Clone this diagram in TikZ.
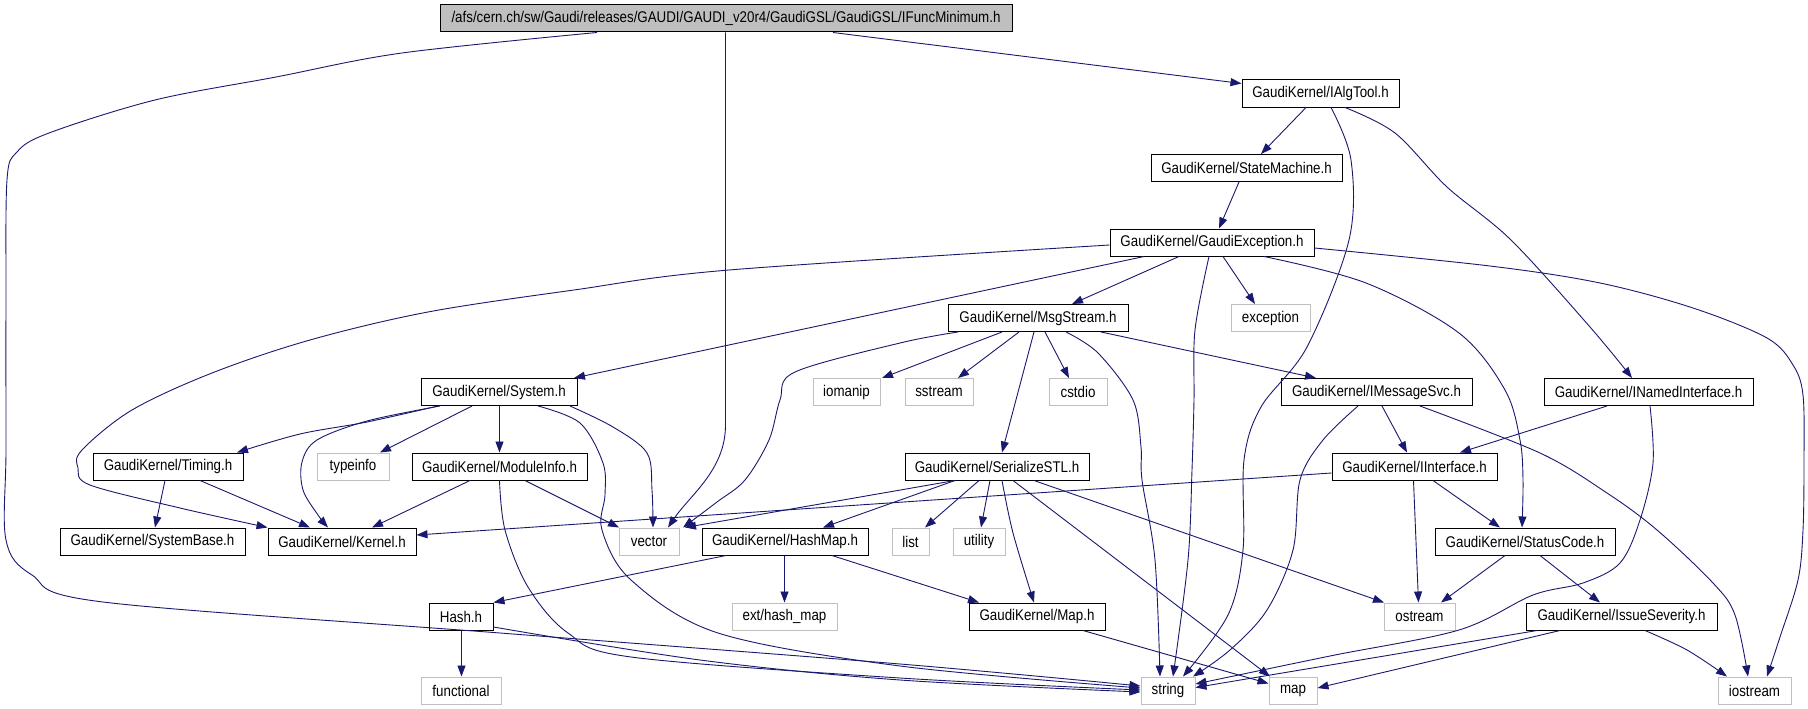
\documentclass[tikz,border=0pt]{standalone}
\usepackage{fontspec}
\setmainfont{Liberation Sans}[FakeStretch=0.86]
\usetikzlibrary{arrows.meta}
\definecolor{edgec}{HTML}{191970}
\definecolor{extc}{HTML}{BFBFBF}
\begin{document}
\begin{tikzpicture}[x=1pt,y=-1pt,
 nb/.style={draw=black,line width=1pt,rectangle,inner sep=0pt,minimum height=27pt,font=\fontsize{15.5}{18}\selectfont,text=black},
 ext/.style={nb,draw=extc},
 root/.style={nb,fill=extc},
 e/.style={draw=edgec,line width=0.9pt,-{Triangle[length=11pt,width=8pt]}},
 sm/.style={smooth,tension=0.55}]
\useasboundingbox[fill=white] (0,0) rectangle (1808,709);
% row 0
\node[root,minimum width=572pt] (top) at (726,18.5) {/afs/cern.ch/sw/Gaudi/releases/GAUDI/GAUDI\_v20r4/GaudiGSL/GaudiGSL/IFuncMinimum.h};
% row 1
\node[nb,minimum width=157pt] (iagt) at (1320.5,93.5) {GaudiKernel/IAlgTool.h};
% row 2
\node[nb,minimum width=191pt] (smh) at (1246.5,168) {GaudiKernel/StateMachine.h};
% row 3
\node[nb,minimum width=204pt] (gex) at (1212,242.5) {GaudiKernel/GaudiException.h};
% row 4
\node[nb,minimum width=180pt] (msg) at (1038,318) {GaudiKernel/MsgStream.h};
\node[ext,minimum width=79pt] (exc) at (1270.5,318) {exception};
% row 5
\node[nb,minimum width=156pt] (sys) at (499,392) {GaudiKernel/System.h};
\node[ext,minimum width=67pt] (iom) at (846.5,392) {iomanip};
\node[ext,minimum width=68pt] (sst) at (939,392) {sstream};
\node[ext,minimum width=58pt] (cst) at (1078,392) {cstdio};
\node[nb,minimum width=191pt] (ims) at (1376.5,392) {GaudiKernel/IMessageSvc.h};
\node[nb,minimum width=209pt] (inm) at (1648.5,392) {GaudiKernel/INamedInterface.h};
% row 6
\node[nb,minimum width=150pt] (tim) at (168,466.5) {GaudiKernel/Timing.h};
\node[ext,minimum width=72pt] (typ) at (353,466.5) {typeinfo};
\node[nb,minimum width=175pt] (mod) at (499.5,466.5) {GaudiKernel/ModuleInfo.h};
\node[nb,minimum width=184pt] (ser) at (997,466.5) {GaudiKernel/SerializeSTL.h};
\node[nb,minimum width=165pt] (iif) at (1414.5,466.5) {GaudiKernel/IInterface.h};
% row 7
\node[nb,minimum width=185pt] (sysb) at (152.5,541.5) {GaudiKernel/SystemBase.h};
\node[nb,minimum width=148pt] (ker) at (342,541.5) {GaudiKernel/Kernel.h};
\node[ext,minimum width=60pt] (vec) at (649,541.5) {vector};
\node[nb,minimum width=166pt] (hmap) at (785,541.5) {GaudiKernel/HashMap.h};
\node[ext,minimum width=37pt] (lst) at (910.5,541.5) {list};
\node[ext,minimum width=52pt] (utl) at (979,541.5) {utility};
\node[nb,minimum width=180pt] (stc) at (1525,541.5) {GaudiKernel/StatusCode.h};
% row 8
\node[nb,minimum width=64pt] (hash) at (461,616.5) {Hash.h};
\node[ext,minimum width=105pt] (ehm) at (784.5,616.5) {ext/hash\_map};
\node[nb,minimum width=136pt] (maph) at (1037,616.5) {GaudiKernel/Map.h};
\node[ext,minimum width=71pt] (ost) at (1419.5,616.5) {ostream};
\node[nb,minimum width=191pt] (iss) at (1621.5,616.5) {GaudiKernel/IssueSeverity.h};
% row 9
\node[ext,minimum width=80pt] (fun) at (461,690.5) {functional};
\node[ext,minimum width=54pt] (str) at (1168,690.5) {string};
\node[ext,minimum width=48pt] (mp) at (1293,690.5) {map};
\node[ext,minimum width=73pt] (ios) at (1754.5,690.5) {iostream};

% edges from top
\draw[e] ([xshift=107pt]top.south) -- ([yshift=-4pt]iagt.north west);
\draw[e] ([xshift=-0.5pt]top.south) -- (725.5,425) .. controls (725.5,470) and (690,495) .. ([xshift=19pt]vec.north);
\draw[e] plot[sm] coordinates {([xshift=-129pt]top.south) (402,53) (276,77) (155,100) (49,133) (17,152) (7,180) (6,300) (6,450) (6,540) (32,575) (103,602) (500,633) (900,664) ([yshift=4.5pt]str.west)};
% IAlgTool
\draw[e] ([xshift=-14.5pt]iagt.south) -- ([xshift=14.5pt]smh.north);
\draw[e] plot[sm] coordinates {([xshift=10.5pt]iagt.south) (1351,160) (1349,240) (1307,347) (1261,407) (1244,460) (1243,550) (1228,615) ([xshift=15pt]str.north)};
\draw[e] plot[sm] coordinates {([xshift=24.5pt]iagt.south) (1395,133) (1447,187) (1511,240) (1590,327) ([xshift=-16.5pt]inm.north)};
% StateMachine
\draw[e] ([xshift=-7.5pt]smh.south) -- ([xshift=7pt]gex.north);
% GaudiException
\draw[e] plot[sm] coordinates {([yshift=-2.5pt]gex.west) (729,270) (574,290) (428,312) (310,340) (212,373) (132,410) (82,450) (78,468) (90,485) (180,508) (ker.north west)};
\draw[e] ([xshift=-68pt]gex.south) -- ([xshift=75pt]sys.north);
\draw[e] ([xshift=-33pt]gex.south) -- ([xshift=34pt]msg.north);
\draw[e] plot[sm] coordinates {([xshift=-3pt]gex.south) (1195,330) (1194,400) (1192,470) (1188,560) ([xshift=5pt]str.north)};
\draw[e] ([xshift=11pt]gex.south) -- ([xshift=-15.5pt]exc.north);
\draw[e] plot[sm] coordinates {([xshift=52pt]gex.south) (1366,283) (1459,333) (1505,390) (1520,440) (1523,480) ([xshift=-3pt]stc.north)};
\draw[e] plot[sm] coordinates {([yshift=-5.5pt]gex.east) (1490,266) (1600,283) (1693,308) (1767,338) (1793,365) (1803,395) (1804,460) (1803,530) (1798,580) (1780,637) ([xshift=12.5pt]ios.north)};
% MsgStream
\draw[e] plot[sm] coordinates {([xshift=-80pt]msg.south) (900,343) (795,372) (780,400) (769,440) (745,480) (717,502) ([xshift=34pt]vec.north)};
\draw[e] ([xshift=-36pt]msg.south) -- ([xshift=35.5pt]iom.north);
\draw[e] ([xshift=-19pt]msg.south) -- ([xshift=19pt]sst.north);
\draw[e] ([xshift=7pt]msg.south) -- ([xshift=-9pt]cst.north);
\draw[e] ([xshift=-4pt]msg.south) -- ([xshift=5pt]ser.north);
\draw[e] plot[sm] coordinates {([xshift=28pt]msg.south) (1098,353) (1133,400) (1141,447) (1142,480) (1155,560) ([xshift=-8pt]str.north)};
\draw[e] ([xshift=63pt]msg.south) -- ([xshift=-60.5pt]ims.north);
% System
\draw[e] plot[sm] coordinates {([xshift=-61pt]sys.south) (367,422) (300,434) ([xshift=69pt]tim.north)};
\draw[e] plot[sm] coordinates {([xshift=-59pt]sys.south) (367,421) (317,440) (302,462) (303,490) (318,515) ([xshift=-14pt]ker.north)};
\draw[e] ([xshift=-27pt]sys.south) -- ([xshift=27pt]typ.north);
\draw[e] ([xshift=0.5pt]sys.south) -- (mod.north);
\draw[e] plot[sm] coordinates {([xshift=39pt]sys.south) (580,423) (603,463) (605,495) (602,530) (631,580) (718,633) (900,666) ([yshift=2.5pt]str.west)};
\draw[e] plot[sm] coordinates {([xshift=71pt]sys.south) (613,427) (647,453) (652,490) ([xshift=4pt]vec.north)};
% Timing
\draw[e] ([xshift=-3pt]tim.south) -- ([xshift=2.5pt]sysb.north);
\draw[e] ([xshift=32pt]tim.south) -- ([xshift=-32pt]ker.north);
% ModuleInfo
\draw[e] ([xshift=-29.5pt]mod.south) -- ([xshift=30pt]ker.north);
\draw[e] ([xshift=25.5pt]mod.south) -- ([xshift=-30pt]vec.north);
\draw[e] plot[sm] coordinates {(mod.south) (505,530) (528,587) (568,633) (631,657) (900,678) ([yshift=0.5pt]str.west)};
% SerializeSTL
\draw[e] ([xshift=-42pt]ser.south) -- ([xshift=36pt]vec.north);
\draw[e] ([xshift=-42pt]ser.south) -- ([xshift=38pt]hmap.north);
\draw[e] ([xshift=-18pt]ser.south) -- ([xshift=14.5pt]lst.north);
\draw[e] ([xshift=-7pt]ser.south) -- ([xshift=2pt]utl.north);
\draw[e] plot[sm] coordinates {([xshift=5pt]ser.south) (1013,533) ([xshift=-3pt]maph.north)};
\draw[e] ([xshift=16pt]ser.south) -- ([xshift=-23pt]mp.north);
\draw[e] ([xshift=37pt]ser.south) -- ([xshift=-35.5pt]ost.north);
% HashMap
\draw[e] ([xshift=-59pt]hmap.south) -- (hash.north east);
\draw[e] ([xshift=-0.5pt]hmap.south) -- ([xshift=-0.5pt]hmap.south |- ehm.north);
\draw[e] ([xshift=47pt]hmap.south) -- ([xshift=-58pt]maph.north);
% Hash
\draw[e] ([xshift=0.5pt]hash.south) -- ([xshift=0.5pt]fun.north);
\draw[e] plot[sm] coordinates {([yshift=-10.5pt]hash.east) (700,660) (900,680) ([yshift=-1.5pt]str.west)};
% Map
\draw[e] ([xshift=46pt]maph.south) -- ([yshift=7pt]mp.west);
% IMessageSvc
\draw[e] ([xshift=5.5pt]ims.south) -- ([xshift=-7.5pt]iif.north);
\draw[e] plot[sm] coordinates {([xshift=-18.5pt]ims.south) (1323,440) (1300,480) (1293,550) (1267,610) (1230,650) ([xshift=25pt]str.north)};
\draw[e] plot[sm] coordinates {([xshift=43.5pt]ims.south) (1540,453) (1607,493) (1657,530) (1713,583) (1735,615) ([xshift=-6.5pt]ios.north)};
% INamedInterface
\draw[e] ([xshift=-41.5pt]inm.south) -- ([xshift=45.5pt]iif.north);
\draw[e] plot[sm] coordinates {([xshift=1.5pt]inm.south) (1653,463) (1640,520) (1620,563) (1583,583) (1533,595) (1459,630) (1330,656) ([yshift=6.5pt]str.east)};
% IInterface
\draw[e] ([yshift=-6.5pt]iif.west) -- ([yshift=6.5pt]ker.east);
\draw[e] ([xshift=18.5pt]iif.south) -- ([xshift=-25pt]stc.north);
\draw[e] ([xshift=-1pt]iif.south) -- ([xshift=-1pt]ost.north);
% StatusCode
\draw[e] ([xshift=-20pt]stc.south) -- ([xshift=21.5pt]ost.north);
\draw[e] ([xshift=15pt]stc.south) -- ([xshift=-21.5pt]iss.north);
% IssueSeverity
\draw[e] ([xshift=-84.5pt]iss.south) -- ([yshift=3pt]str.east);
\draw[e] ([xshift=-61.5pt]iss.south) -- ([yshift=2.5pt]mp.east);
\draw[e] plot[sm] coordinates {([xshift=23.5pt]iss.south) (1687,650) ([xshift=-27.5pt]ios.north)};
\end{tikzpicture}
\end{document}
